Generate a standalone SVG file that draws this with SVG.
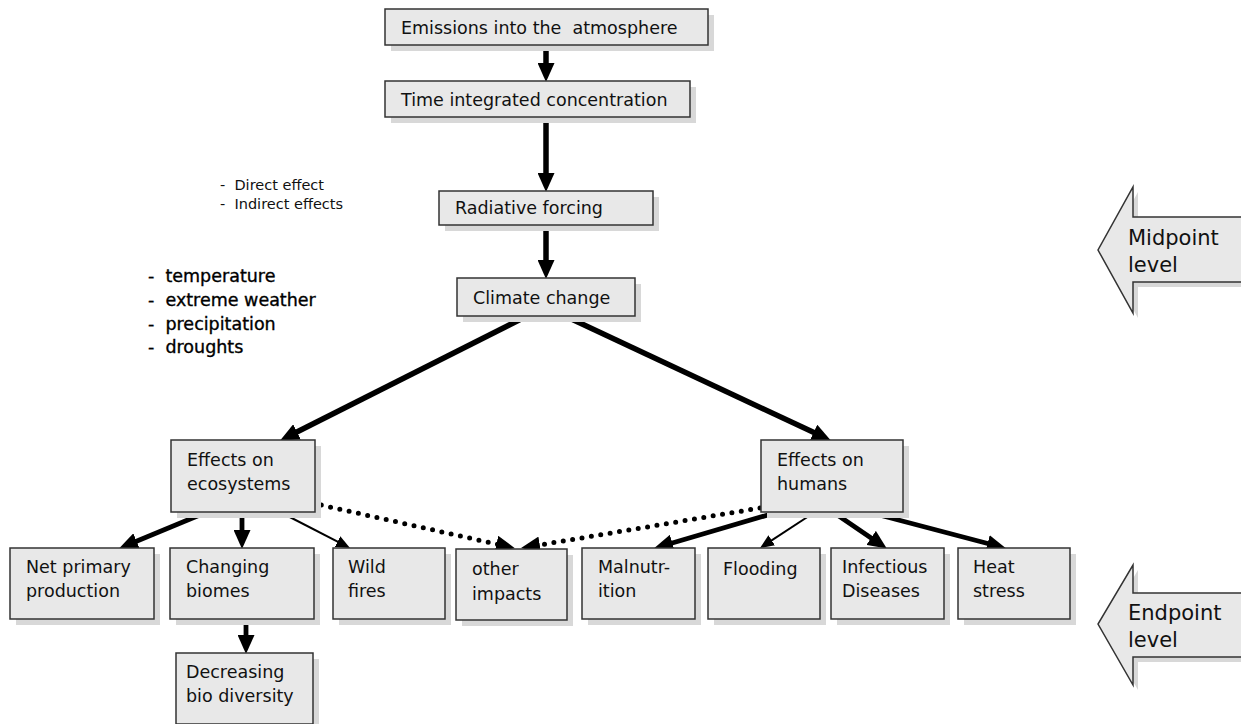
<svg xmlns="http://www.w3.org/2000/svg" width="1241" height="724" viewBox="0 0 1241 724">
  <defs>
    <marker id="head" markerUnits="userSpaceOnUse" markerWidth="19" markerHeight="17" refX="8" refY="8.5" orient="auto">
      <path d="M0,0 L19,8.5 L0,17 z" fill="#000"/>
    </marker>
    <marker id="head-thin" markerUnits="userSpaceOnUse" markerWidth="14" markerHeight="12" refX="6" refY="6" orient="auto">
      <path d="M0,0 L14,6 L0,12 z" fill="#000"/>
    </marker>
  </defs>
  <style>
    .shadow { fill: #d8d8d8; }
    .box { fill: #e8e8e8; stroke: #333; stroke-width: 1.5; }
    .label { font-family: "DejaVu Sans", "Liberation Sans", sans-serif; font-size: 17.5px; fill: #111; white-space: pre; }
    .note { font-family: "DejaVu Sans", "Liberation Sans", sans-serif; font-size: 14.5px; fill: #111; white-space: pre; }
    .list { font-family: "DejaVu Sans", "Liberation Sans", sans-serif; font-size: 17.5px; fill: #000; stroke: #000; stroke-width: 0.35; white-space: pre; }
    .level { font-family: "DejaVu Sans", "Liberation Sans", sans-serif; font-size: 21px; fill: #111; }
    .thick { stroke: #000; stroke-width: 5.5; fill: none; marker-end: url(#head); }
    .mid { stroke: #000; stroke-width: 4.8; fill: none; marker-end: url(#head); }
    .thin { stroke: #000; stroke-width: 2; fill: none; marker-end: url(#head-thin); }
    .dotted { stroke: #000; stroke-width: 5; fill: none; stroke-linecap: round; stroke-dasharray: 0 9.5; marker-end: url(#head); }
    .blockarrow { fill: #e8e8e8; stroke: #333; stroke-width: 1.5; }
  </style>

  <rect width="1241" height="724" fill="#fff"/>

  <!-- connectors -->
  <g id="connectors">
    <line class="thick" x1="546" y1="45" x2="546" y2="71"/>
    <line class="thick" x1="546" y1="117" x2="546" y2="181"/>
    <line class="thick" x1="546" y1="225" x2="546" y2="268"/>
    <line class="thick" x1="527" y1="316" x2="289.9" y2="435.5"/>
    <line class="thick" x1="565" y1="316" x2="820.9" y2="435.8"/>
    <line class="mid" x1="207" y1="512" x2="129.2" y2="544.2"/>
    <line class="mid" x1="242" y1="512" x2="242" y2="538"/>
    <line class="thin" x1="280" y1="512" x2="342.9" y2="544.3"/>
    <line class="dotted" x1="312" y1="503" x2="504.2" y2="545.8"/>
    <line class="dotted" x1="760" y1="508" x2="531.9" y2="546.3"/>
    <line class="mid" x1="778" y1="512" x2="664.6" y2="545.2"/>
    <line class="thin" x1="815" y1="512" x2="766.7" y2="543.6"/>
    <line class="mid" x1="833" y1="512" x2="877.7" y2="542.4"/>
    <line class="mid" x1="868" y1="512" x2="995.3" y2="545.5"/>
    <line class="mid" x1="246" y1="619" x2="246" y2="643"/>
  </g>

  <!-- chain from emissions to climate change -->
  <g id="emissions">
    <rect class="shadow" x="391" y="15" width="323" height="36"/>
    <rect class="box" x="385" y="9" width="323" height="36"/>
    <text class="label" x="401" y="34">Emissions into the  atmosphere</text>
  </g>
  <g id="concentration">
    <rect class="shadow" x="391" y="87" width="305" height="36"/>
    <rect class="box" x="385" y="81" width="305" height="36"/>
    <text class="label" x="401" y="106">Time integrated concentration</text>
  </g>
  <g id="forcing">
    <rect class="shadow" x="445" y="197" width="214" height="34"/>
    <rect class="box" x="439" y="191" width="214" height="34"/>
    <text class="label" x="455" y="214">Radiative forcing</text>
  </g>
  <g id="climate-change">
    <rect class="shadow" x="463" y="284" width="178" height="38"/>
    <rect class="box" x="457" y="278" width="178" height="38"/>
    <text class="label" x="473" y="304">Climate change</text>
  </g>

  <!-- side notes -->
  <g id="forcing-notes">
    <text class="note" x="220" y="190">-  Direct effect</text>
    <text class="note" x="220" y="209">-  Indirect effects</text>
  </g>
  <g id="climate-notes">
    <text class="list" x="148" y="282">-  temperature</text>
    <text class="list" x="148" y="306">-  extreme weather</text>
    <text class="list" x="148" y="330">-  precipitation</text>
    <text class="list" x="148" y="353">-  droughts</text>
  </g>

  <!-- effect groups -->
  <g id="ecosystems">
    <rect class="shadow" x="177" y="446" width="144" height="72"/>
    <rect class="box" x="171" y="440" width="144" height="72"/>
    <text class="label" x="187" y="466">Effects on</text>
    <text class="label" x="187" y="490">ecosystems</text>
  </g>
  <g id="humans">
    <rect class="shadow" x="767" y="446" width="142" height="72"/>
    <rect class="box" x="761" y="440" width="142" height="72"/>
    <text class="label" x="777" y="466">Effects on</text>
    <text class="label" x="777" y="490">humans</text>
  </g>

  <!-- endpoint boxes -->
  <g id="net-primary-production">
    <rect class="shadow" x="16" y="554" width="144" height="71"/>
    <rect class="box" x="10" y="548" width="144" height="71"/>
    <text class="label" x="26" y="573">Net primary</text>
    <text class="label" x="26" y="597">production</text>
  </g>
  <g id="changing-biomes">
    <rect class="shadow" x="176" y="554" width="144" height="71"/>
    <rect class="box" x="170" y="548" width="144" height="71"/>
    <text class="label" x="186" y="573">Changing</text>
    <text class="label" x="186" y="597">biomes</text>
  </g>
  <g id="wild-fires">
    <rect class="shadow" x="339" y="554" width="112" height="71"/>
    <rect class="box" x="333" y="548" width="112" height="71"/>
    <text class="label" x="348" y="573">Wild</text>
    <text class="label" x="348" y="597">fires</text>
  </g>
  <g id="other-impacts">
    <rect class="shadow" x="462" y="555" width="111" height="71"/>
    <rect class="box" x="456" y="549" width="111" height="71"/>
    <text class="label" x="472" y="575">other</text>
    <text class="label" x="472" y="600">impacts</text>
  </g>
  <g id="malnutrition">
    <rect class="shadow" x="588" y="554" width="113" height="71"/>
    <rect class="box" x="582" y="548" width="113" height="71"/>
    <text class="label" x="598" y="573">Malnutr-</text>
    <text class="label" x="598" y="597">ition</text>
  </g>
  <g id="flooding">
    <rect class="shadow" x="714" y="554" width="112" height="71"/>
    <rect class="box" x="708" y="548" width="112" height="71"/>
    <text class="label" x="723" y="575">Flooding</text>
  </g>
  <g id="infectious-diseases">
    <rect class="shadow" x="837" y="554" width="113" height="71"/>
    <rect class="box" x="831" y="548" width="113" height="71"/>
    <text class="label" x="842" y="573">Infectious</text>
    <text class="label" x="842" y="597">Diseases</text>
  </g>
  <g id="heat-stress">
    <rect class="shadow" x="964" y="554" width="112" height="71"/>
    <rect class="box" x="958" y="548" width="112" height="71"/>
    <text class="label" x="973" y="573">Heat</text>
    <text class="label" x="973" y="597">stress</text>
  </g>
  <g id="decreasing-biodiversity">
    <rect class="shadow" x="182" y="659" width="137" height="71"/>
    <rect class="box" x="176" y="653" width="137" height="71"/>
    <text class="label" x="186" y="678">Decreasing</text>
    <text class="label" x="186" y="702">bio diversity</text>
  </g>

  <!-- level markers -->
  <g id="midpoint-level">
    <path class="shadow" d="M1246,222 L1138,222 L1138,192 L1103,255 L1138,318 L1138,287 L1246,287 z"/>
    <path class="blockarrow" d="M1243,217 L1133,217 L1133,187 L1098,250 L1133,313 L1133,282 L1243,282"/>
    <text class="level" x="1128" y="245">Midpoint</text>
    <text class="level" x="1128" y="272">level</text>
  </g>
  <g id="endpoint-level">
    <path class="shadow" d="M1246,598 L1138,598 L1138,570 L1103,629 L1138,690 L1138,662 L1246,662 z"/>
    <path class="blockarrow" d="M1243,593 L1133,593 L1133,565 L1098,624 L1133,685 L1133,657 L1243,657"/>
    <text class="level" x="1128" y="620">Endpoint</text>
    <text class="level" x="1128" y="647">level</text>
  </g>
</svg>
